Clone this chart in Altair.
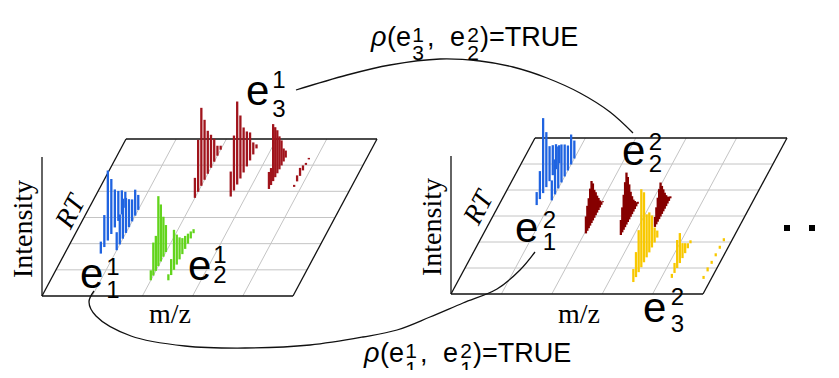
import altair as alt
import pandas as pd

# ---------------- data ----------------
# isotope traces: each trace is a row of intensity bars along the RT axis
trace_panel = ["left"] * 8 + ["right"] * 8
trace_group = ["blue", "blue", "green", "green", "red_l", "red_l", "red_l", "red_l",
               "blue", "blue", "red_r", "red_r", "red_r", "yellow", "yellow", "yellow"]
trace_mz = [0.72, 1.0, 2.0, 2.35, 2.0, 2.7, 3.38, 3.86,
            0.75, 1.0, 2.03, 2.74, 3.33, 3.49, 4.21, 4.85]
trace_rt_start = [1.62, 1.75, 0.6, 0.6, 3.75, 3.8, 4.09, 4.17,
                  3.42, 3.6, 2.33, 2.27, 2.58, 0.46, 0.62, 0.58]
trace_rt_step = [0.25, 0.22, 0.18, 0.2, 0.23, 0.23, 0.15, 0.21,
                 0.23, 0.23, 0.1, 0.1, 0.1, 0.19, 0.19, 0.29]
trace_intensity = [
    [12, 32, 70, 55, 38, 30, 24, 16],
    [18, 30, 40, 35, 28, 22, 26, 15],
    [10, 33, 35, 70, 57, 40, 27],
    [6, 16, 40, 30, 22, 16, 13, 10, 7, 4],
    [20, 52, 78, 60, 43, 33, 23, 10, 4],
    [25, 55, 83, 63, 45, 35, 28, 12, 4],
    [17, 17, 57, 50, 43, 33, 25, 13, 7],
    [2, 6, 8, 5, 2, 1.5],
    [13, 28, 75, 55, 35, 30, 25, 18],
    [20, 35, 42, 38, 32, 25, 30, 18],
    [17, 25, 30, 37, 42, 37, 28, 23, 17, 12, 7, 3, 1],
    [15, 25, 35, 45, 52, 45, 35, 25, 18, 12, 8, 4, 2],
    [10, 17, 24, 30, 34, 28, 22, 16, 11, 7, 4, 2],
    [13, 25, 42, 78, 70, 43, 40, 32, 15, 7],
    [4, 10, 28, 30, 15, 10, 5, 3],
    [3, 4, 3, 3, 3, 3],
]
group_names = ["blue", "green", "red_l", "red_r", "yellow"]
group_colors = ["#1f63e0", "#62d41c", "#a0141c", "#860000", "#f8c800"]

# entity labels e^{sup}_{sub}
ent_sup = ["1", "1", "1", "2", "2", "2"]
ent_sub = ["1", "2", "3", "1", "2", "3"]

# correlation labels rho(e^a_b, e^c_d)=TRUE
rho_args = [("1", "3", "2", "2"), ("1", "1", "2", "1")]

# ---------------- layout ----------------
PANELS = {
    "left": dict(ox=42, oy=296, cw=50.2, rdx=14.0, rdy=26.17, axis_top=157),
    "right": dict(ox=451, oy=294, cw=50.4, rdx=14.0, rdy=26.0, axis_top=156),
}
N_COLS, N_ROWS = 5, 6


def proj(panel, u, v):
    g = PANELS[panel]
    return g["ox"] + g["cw"] * u + g["rdx"] * v, g["oy"] - g["rdy"] * v


# grid / frame segments
grid_rows, frame_rows = [], []
for p, g in PANELS.items():
    for i in range(N_ROWS + 1):
        x1, y1 = proj(p, 0, i)
        x2, y2 = proj(p, N_COLS, i)
        (frame_rows if i in (0, N_ROWS) else grid_rows).append(dict(x=x1, y=y1, x2=x2, y2=y2))
    for j in range(N_COLS + 1):
        x1, y1 = proj(p, j, 0)
        x2, y2 = proj(p, j, N_ROWS)
        (frame_rows if j in (0, N_COLS) else grid_rows).append(dict(x=x1, y=y1, x2=x2, y2=y2))
    frame_rows.append(dict(x=g["ox"], y=g["oy"], x2=g["ox"], y2=g["axis_top"]))
grid_df = pd.DataFrame(grid_rows)
frame_df = pd.DataFrame(frame_rows)

# bars
bar_rows = []
for t in range(len(trace_mz)):
    for k, h in enumerate(trace_intensity[t]):
        v = trace_rt_start[t] + k * trace_rt_step[t]
        bx, by = proj(trace_panel[t], trace_mz[t], v)
        bar_rows.append(dict(x=bx, y=by, y2=by - h, group=trace_group[t]))
bar_df = pd.DataFrame(bar_rows)

# entity label placement: e left x, e baseline, index centre x, sup baseline, sub baseline
ENT_POS = [(80, 288, 113, 275, 298), (188, 280, 220, 263, 283), (246, 105, 279, 88, 117),
           (515, 242, 549.5, 228, 250), (622, 165, 655.5, 150, 172), (643, 322, 677.5, 305, 332)]
sans_rows, digit_rows, rho_rows = [], [], []
for (ex, ey, dx, sy, suby), sp, sb in zip(ENT_POS, ent_sup, ent_sub):
    sans_rows.append(dict(text="e", x=ex, y=ey, size=42))
    digit_rows.append(dict(text=sp, x=dx, y=sy, size=24))
    digit_rows.append(dict(text=sb, x=dx, y=suby, size=24))

RHO_POS = [(371, 46), (364, 362)]
for (x0, base), (a, b, c, d) in zip(RHO_POS, rho_args):
    rho_rows.append(dict(text="ρ", x=x0, y=base, size=27))
    sans_rows.append(dict(text="(e", x=x0 + 16, y=base, size=27))
    digit_rows.append(dict(text=a, x=x0 + 47, y=base - 4, size=21))
    digit_rows.append(dict(text=b, x=x0 + 47, y=base + 14, size=21))
    sans_rows.append(dict(text=",", x=x0 + 56, y=base, size=27))
    sans_rows.append(dict(text="e", x=x0 + 79, y=base, size=27))
    digit_rows.append(dict(text=c, x=x0 + 102, y=base - 4, size=21))
    digit_rows.append(dict(text=d, x=x0 + 102, y=base + 14, size=21))
    sans_rows.append(dict(text=")=TRUE", x=x0 + 109, y=base, size=27))
sans_df = pd.DataFrame(sans_rows)
digit_df = pd.DataFrame(digit_rows)
rho_df = pd.DataFrame(rho_rows)

mz_df = pd.DataFrame(dict(text=["m/z", "m/z"], x=[170, 579], y=[323, 323]))
int_df = pd.DataFrame(dict(text=["Intensity", "Intensity"], x=[24, 433], y=[229, 227]))
rt_df = pd.DataFrame(dict(text=["RT", "RT"], x=[71, 479], y=[212, 208]))

# connecting curves
top_curve = [(296, 90), (347, 75), (390, 65), (440, 59), (480, 61), (513, 67),
             (547, 78), (580, 93), (610, 112), (633, 133)]
bottom_curve = [(94, 291), (89, 302), (96, 316), (131, 336), (185, 346), (245, 348),
                (310, 345), (363, 337), (397, 330), (430, 317), (463, 303), (497, 289),
                (520, 270), (535, 252)]
curve_rows = []
for name, pts in (("top", top_curve), ("bottom", bottom_curve)):
    for i, (cx, cy) in enumerate(pts):
        curve_rows.append(dict(curve=name, idx=i, x=cx, y=cy))
curve_df = pd.DataFrame(curve_rows)

dots_df = pd.DataFrame(dict(x=[787, 812, 836], y=[228, 228, 228]))


# ---------------- chart ----------------
def X(f="x"):
    return alt.X(f"{f}:Q", scale=alt.Scale(domain=[8, 831], nice=False, zero=False), axis=None)


def Y(f="y"):
    return alt.Y(f"{f}:Q", scale=alt.Scale(domain=[370, 8], nice=False, zero=False), axis=None)


grid = alt.Chart(grid_df).mark_rule(color="#c4c4c4", strokeWidth=1).encode(
    x=X(), y=Y(), x2="x2:Q", y2="y2:Q")
frame = alt.Chart(frame_df).mark_rule(color="#111111", strokeWidth=1.3).encode(
    x=X(), y=Y(), x2="x2:Q", y2="y2:Q")
bars = alt.Chart(bar_df).mark_rule(strokeWidth=2.3, strokeCap="butt").encode(
    x=X(), y=Y(), y2="y2:Q",
    color=alt.Color("group:N", scale=alt.Scale(domain=group_names, range=group_colors), legend=None))
curves = alt.Chart(curve_df).mark_line(color="#111111", strokeWidth=1.3, interpolate="catmull-rom").encode(
    x=X(), y=Y(), detail="curve:N", order="idx:Q")
dots = alt.Chart(dots_df).mark_square(color="#000000", size=36, opacity=1).encode(x=X(), y=Y())

SANS = "Liberation Sans, Arial, Helvetica, sans-serif"
SERIF = "Liberation Serif, Times New Roman, serif"
sans = alt.Chart(sans_df).mark_text(font=SANS, align="left", baseline="alphabetic", color="#000").encode(
    x=X(), y=Y(), text="text:N", size=alt.Size("size:Q", scale=None))
digits = alt.Chart(digit_df).mark_text(font=SANS, align="center", baseline="alphabetic", color="#000").encode(
    x=X(), y=Y(), text="text:N", size=alt.Size("size:Q", scale=None))
rho = alt.Chart(rho_df).mark_text(font=SANS, fontStyle="italic", align="left", baseline="alphabetic",
                                  color="#000").encode(
    x=X(), y=Y(), text="text:N", size=alt.Size("size:Q", scale=None))
mz = alt.Chart(mz_df).mark_text(font=SERIF, fontSize=28, align="center", baseline="alphabetic",
                                color="#000").encode(x=X(), y=Y(), text="text:N")
inten = alt.Chart(int_df).mark_text(font=SERIF, fontSize=28, align="center", baseline="middle",
                                    angle=270, color="#000").encode(x=X(), y=Y(), text="text:N")
rt = alt.Chart(rt_df).mark_text(font=SERIF, fontSize=28, fontStyle="italic", align="center",
                                baseline="middle", angle=298, color="#000").encode(x=X(), y=Y(), text="text:N")

chart = alt.layer(grid, frame, bars, curves, dots, sans, digits, rho, mz, inten, rt).properties(
    width=823, height=362, padding=0, autosize=alt.AutoSizeParams(type="none"), background="white"
).configure_view(stroke=None)

chart.save("out.html", embed_options={"renderer": "svg", "actions": False})
